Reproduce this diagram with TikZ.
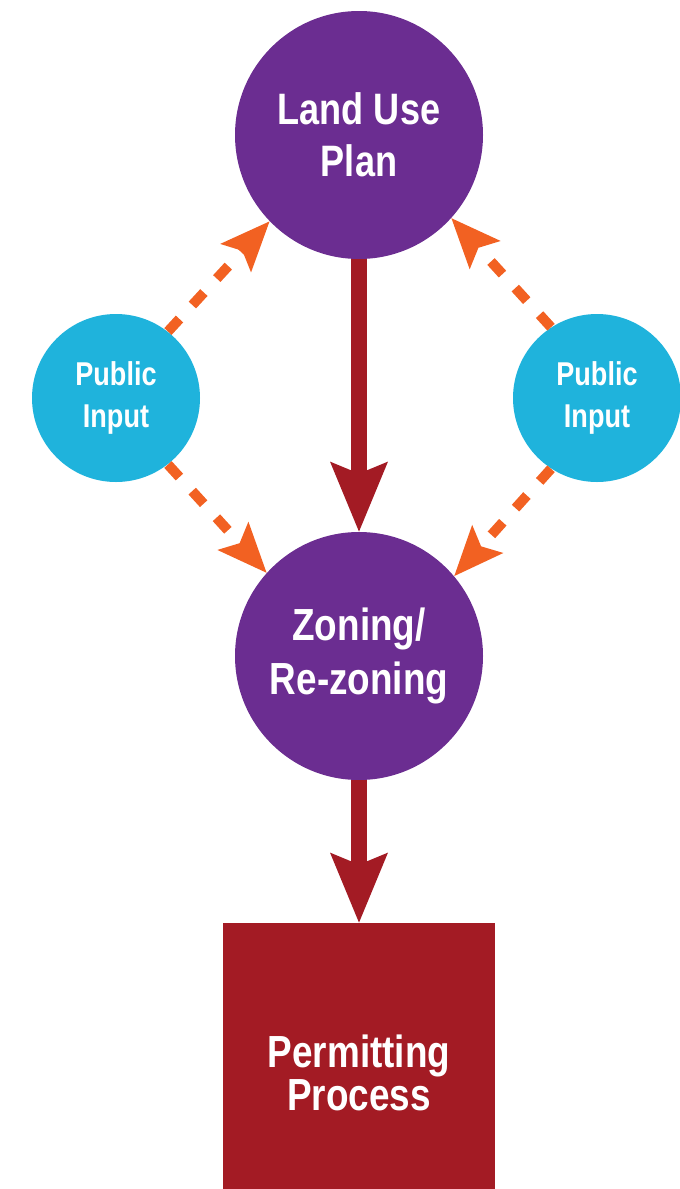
\documentclass[tikz,border=0pt]{standalone}
\usepackage{fontspec}
\setmainfont{Liberation Sans}[FakeStretch=0.82]
\usetikzlibrary{positioning,arrows.meta}
\definecolor{planpurple}{HTML}{6B2D91}
\definecolor{inputcyan}{HTML}{1FB3DC}
\definecolor{permitred}{HTML}{A31B24}
\definecolor{dashorange}{HTML}{F26122}
\newcommand{\MIDX}{359}
\newcommand{\PLANY}{135}
\newcommand{\ZONEY}{656}
\newcommand{\INPUTY}{398}
\newcommand{\INPUTLX}{116}
\newcommand{\INPUTRX}{597}
\newcommand{\PERMITY}{1073}

\begin{document}
\begin{tikzpicture}[x=0.5pt,y=-0.5pt]
\tikzstyle{every node}=[font=\bfseries, text=white, align=center, inner sep=0pt]
\tikzstyle{stagecircle}=[circle, fill=planpurple, minimum size=124pt]
\tikzstyle{inputcircle}=[circle, fill=inputcyan, minimum size=84pt, font=\bfseries\fontsize{16.5}{21}\selectfont]
\tikzstyle{mainarrow}=[line width=8pt, draw=permitred, -{Stealth[length=35pt,width=29pt,inset=6pt,line width=0pt]}]
\tikzstyle{inputarrow}=[line width=5pt, draw=dashorange, dash pattern=on 8.5pt off 9.5pt, -{Stealth[length=25pt,width=21pt,inset=5pt,line width=0pt]}]
\useasboundingbox (0,0) rectangle (680,1189);

% Stages
	\node[stagecircle, font=\bfseries\fontsize{22}{26}\selectfont] (landuse) at ({\MIDX},{\PLANY}) {Land Use\\Plan};
	\node[stagecircle, font=\bfseries\fontsize{22.5}{27}\selectfont] (zoning) at ({\MIDX},{\ZONEY}) {Zoning/\\Re-zoning};
	\node[fill=permitred, minimum width=136pt, minimum height=150pt, font=\bfseries\fontsize{22.5}{21.5}\selectfont] (permit) at ({\MIDX},{\PERMITY}) {Permitting\\Process};

% Public input
	\node[inputcircle] (inputL) at ({\INPUTLX},{\INPUTY}) {Public\\Input};
	\node[inputcircle] (inputR) at ({\INPUTRX},{\INPUTY}) {Public\\Input};

% Main arrows
	\draw[mainarrow] (landuse.south) -- (zoning.north);
	\draw[mainarrow] (zoning.south) -- (permit.north);

% Input arrows
	\draw[inputarrow] (inputL.52) -- (landuse.224);
	\draw[inputarrow] (inputL.-52) -- (zoning.138);
	\draw[inputarrow] (inputR.123) -- (landuse.318);
	\draw[inputarrow] (inputR.237) -- (zoning.40);

\end{tikzpicture}
\end{document}
